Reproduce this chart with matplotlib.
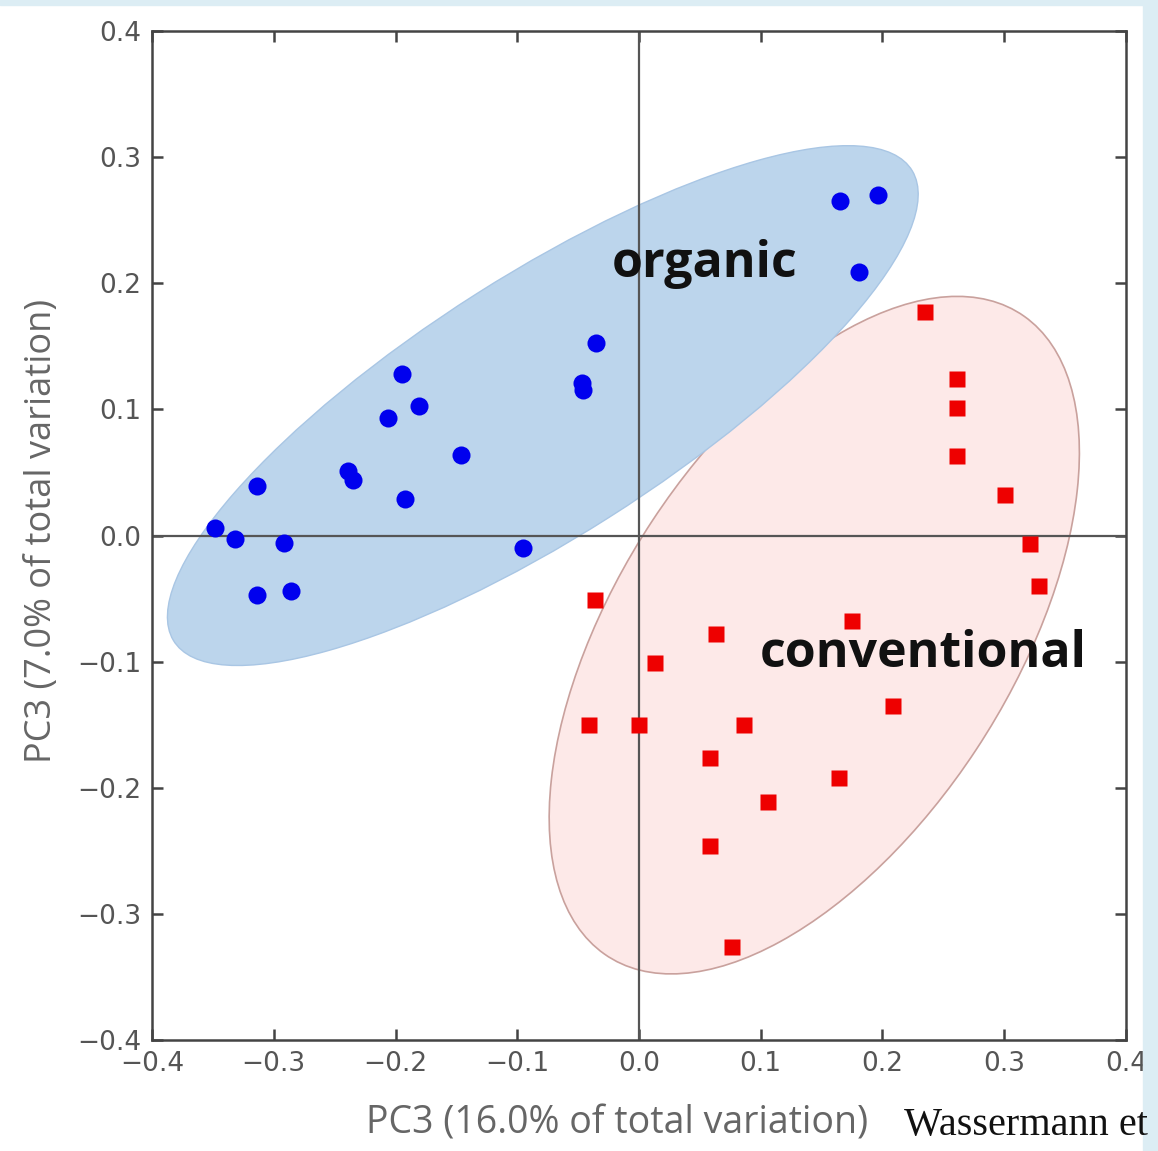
import numpy as np
import matplotlib
matplotlib.use("Agg")
import matplotlib.pyplot as plt
from matplotlib.patches import Ellipse, Rectangle

# ---- data ----
organic_x = [-0.348, -0.332, -0.314, -0.314, -0.292, -0.286, -0.239, -0.235, -0.206, -0.195,
             -0.181, -0.192, -0.146, -0.095, -0.047, -0.046, -0.035, 0.165, 0.196, 0.181]
organic_y = [0.006, -0.003, 0.039, -0.047, -0.006, -0.044, 0.051, 0.044, 0.093, 0.128,
             0.103, 0.029, 0.064, -0.010, 0.121, 0.115, 0.153, 0.265, 0.270, 0.209]

conv_x = [0.235, 0.261, 0.261, 0.261, 0.301, 0.321, 0.329, -0.036, 0.063, 0.175,
          0.013, -0.041, 0.000, 0.086, 0.058, 0.209, 0.164, 0.106, 0.058, 0.076]
conv_y = [0.177, 0.124, 0.101, 0.063, 0.032, -0.007, -0.040, -0.051, -0.078, -0.068,
          -0.101, -0.150, -0.150, -0.150, -0.176, -0.135, -0.192, -0.211, -0.246, -0.326]

# ellipses: centre, width, height, angle
organic_ell = (-0.079, 0.103), 0.712, 0.208, 31.5
conv_ell = (0.144, -0.079), 0.612, 0.322, 55.7

ticks = [-0.4, -0.3, -0.2, -0.1, 0.0, 0.1, 0.2, 0.3, 0.4]

# ---- figure ----
fig = plt.figure(figsize=(11.58, 11.51), dpi=100)
fig.patches.append(Rectangle((0, 0.9955), 1, 0.0045, transform=fig.transFigure,
                             color="#dcedf4", zorder=0))
fig.patches.append(Rectangle((0.987, 0), 0.013, 1, transform=fig.transFigure,
                             color="#dcedf4", zorder=0))

ax = fig.add_axes([0.1313, 0.0964, 0.841, 0.8767])

c, w, h, a = conv_ell
ax.add_patch(Ellipse(c, w, h, angle=a, facecolor="#fde9e8", edgecolor="#c9a19d",
                     lw=1.2, zorder=1))
c, w, h, a = organic_ell
ax.add_patch(Ellipse(c, w, h, angle=a, facecolor="#bcd5ec", edgecolor="#a9c6e4",
                     lw=1.0, zorder=1.5))

ax.axhline(0, color="#555555", lw=1.6, zorder=2)
ax.axvline(0, color="#555555", lw=1.6, zorder=2)

ax.plot(organic_x, organic_y, "o", color="#0000ee", ms=13, mec="none", zorder=3)
ax.plot(conv_x, conv_y, "s", color="#ee0000", ms=11.5, mec="none", zorder=3)

ax.text(-0.022, 0.205, "organic", fontsize=36, fontweight="bold", family="Open Sans",
        color="#111111", zorder=4)
ax.text(0.0995, -0.104, "conventional", fontsize=36, fontweight="bold", family="Open Sans",
        color="#111111", zorder=4)

ax.set_xlim(-0.4, 0.4)
ax.set_ylim(-0.4, 0.4)
ax.set_xticks(ticks)
ax.set_yticks(ticks)
ax.set_xticklabels([f"{t:.1f}".replace("-", "\u2212") for t in ticks])
ax.set_yticklabels([f"{t:.1f}".replace("-", "\u2212") for t in ticks])
ax.tick_params(direction="in", length=8, width=1.8, color="#444444", labelsize=19,
               labelcolor="#555555", top=True, right=True, pad=8)
for s in ax.spines.values():
    s.set_linewidth(1.8)
    s.set_color("#444444")

ax.set_xlabel("PC3 (16.0% of total variation)", fontsize=27, family="Open Sans",
              color="#666666")
ax.xaxis.set_label_coords(0.478, -0.064)
ax.set_ylabel("PC3 (7.0% of total variation)", fontsize=26, family="Open Sans",
              color="#666666")
ax.yaxis.set_label_coords(-0.095, 0.505)

fig.text(0.781, 0.014, "Wassermann et", fontsize=29, family="Liberation Serif",
         color="#111111")

fig.savefig("out.png", dpi=100)
